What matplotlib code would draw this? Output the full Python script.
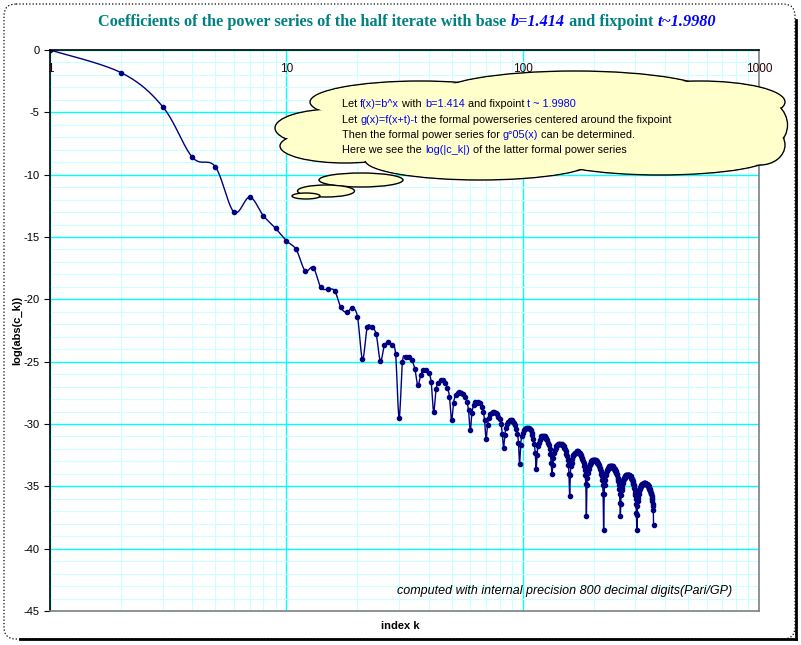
import numpy as np, matplotlib
matplotlib.use('Agg')
import matplotlib.pyplot as plt
from matplotlib.patches import Ellipse, FancyBboxPatch
from matplotlib.ticker import FixedLocator, NullFormatter

# ---- data: log(|c_k|) for k = 1..358 ----
y_early = [0.0, -1.82, -4.55, -8.6, -9.35, -13.0, -11.8, -13.3, -14.3, -15.3,
           -16.0, -17.7, -17.45, -19.05, -19.2, -19.3, -20.65, -21.05, -20.7, -21.4,
           -24.8, -22.25, -22.25, -22.8, -24.95, -23.7, -23.45, -23.65, -24.4]
y_late = [
 -29.5,-25.0,-24.6,-24.6,-24.9,-25.6,-26.9,-26.1,-25.7,-25.7,-25.9,-26.6,-29.0,-27.2,
 -26.7,-26.5,-26.5,-26.7,-27.1,-27.8,-29.7,-28.3,-27.7,-27.5,-27.4,-27.5,-27.6,-27.8,
 -28.2,-28.9,-30.5,-29.1,-28.5,-28.2,-28.3,-28.2,-28.3,-28.6,-29.0,-29.7,-31.2,-30.1,
 -29.5,-29.2,-29.1,-29.0,-29.0,-29.1,-29.2,-29.4,-29.6,-30.0,-30.8,-31.9,-30.9,-30.3,
 -30.0,-29.8,-29.7,-29.7,-29.7,-29.8,-29.9,-30.1,-30.4,-30.8,-31.5,-33.2,-31.7,-31.0,
 -30.7,-30.5,-30.4,-30.3,-30.3,-30.3,-30.3,-30.4,-30.5,-30.7,-30.9,-31.2,-31.6,-32.3,
 -33.6,-32.5,-31.8,-31.5,-31.3,-31.1,-31.0,-31.0,-31.0,-31.0,-31.0,-31.1,-31.2,-31.3,
 -31.5,-31.7,-32.0,-32.4,-33.1,-34.0,-33.3,-32.7,-32.3,-32.1,-31.9,-31.8,-31.7,-31.6,
 -31.6,-31.6,-31.6,-31.6,-31.6,-31.7,-31.7,-31.8,-31.9,-32.0,-32.2,-32.4,-32.6,-32.9,
 -33.3,-34.0,-35.8,-34.1,-33.4,-33.1,-32.8,-32.6,-32.5,-32.4,-32.3,-32.3,-32.3,-32.2,
 -32.2,-32.2,-32.3,-32.3,-32.3,-32.4,-32.5,-32.6,-32.7,-32.8,-33.0,-33.1,-33.4,-33.7,
 -34.1,-34.8,-37.4,-34.9,-34.3,-33.9,-33.6,-33.4,-33.3,-33.2,-33.1,-33.0,-33.0,-32.9,
 -32.9,-32.9,-32.9,-32.9,-32.9,-32.9,-32.9,-33.0,-33.0,-33.1,-33.1,-33.2,-33.3,-33.4,
 -33.5,-33.6,-33.8,-34.0,-34.2,-34.5,-34.9,-35.6,-38.5,-35.6,-34.9,-34.5,-34.2,-34.1,
 -33.9,-33.8,-33.7,-33.6,-33.5,-33.5,-33.5,-33.4,-33.4,-33.4,-33.4,-33.4,-33.4,-33.4,
 -33.4,-33.5,-33.5,-33.5,-33.6,-33.6,-33.7,-33.8,-33.8,-33.9,-34.0,-34.1,-34.3,-34.4,
 -34.6,-34.9,-35.2,-35.6,-36.3,-37.4,-36.4,-35.7,-35.3,-35.1,-34.9,-34.7,-34.6,-34.5,
 -34.4,-34.3,-34.3,-34.2,-34.2,-34.1,-34.1,-34.1,-34.1,-34.1,-34.1,-34.1,-34.1,-34.1,
 -34.1,-34.1,-34.2,-34.2,-34.2,-34.3,-34.3,-34.4,-34.4,-34.5,-34.6,-34.7,-34.8,-34.9,
 -35.0,-35.1,-35.3,-35.5,-35.7,-36.0,-36.4,-37.1,-38.5,-37.3,-36.6,-36.2,-35.9,-35.7,
 -35.6,-35.4,-35.3,-35.2,-35.1,-35.1,-35.0,-35.0,-34.9,-34.9,-34.8,-34.8,-34.8,-34.8,
 -34.8,-34.7,-34.7,-34.7,-34.7,-34.7,-34.7,-34.8,-34.8,-34.8,-34.8,-34.8,-34.8,-34.9,
 -34.9,-34.9,-35.0,-35.0,-35.1,-35.1,-35.2,-35.2,-35.3,-35.4,-35.5,-35.5,-35.6,-35.8,
 -35.9,-36.0,-36.2,-36.4,-36.6,-36.9,-38.1]
log_ck = y_early + y_late
k_index = list(range(1, len(log_ck) + 1))

x_ticks = [1, 10, 100, 1000]
x_tick_labels = ["1", "10", "100", "1000"]
y_ticks = [0, -5, -10, -15, -20, -25, -30, -35, -40, -45]

W, H = 801, 645
fig = plt.figure(figsize=(W/100, H/100), dpi=100)
ax = fig.add_axes([50/W, 1-611/H, 709/W, 561/H])
ax.set_xscale('log')
ax.set_xlim(1, 1000)
ax.set_ylim(-45, 0)
ax.set_yticks(y_ticks)
ax.yaxis.set_minor_locator(FixedLocator(np.arange(-45, 1, 1)))
ax.set_yticklabels([str(t) for t in y_ticks], fontsize=8, family='Liberation Sans')
ax.set_xticks(x_ticks)
ax.xaxis.set_minor_formatter(NullFormatter())
ax.set_xticklabels([])
ax.tick_params(axis='x', which='both', length=0)
ax.tick_params(axis='y', which='major', length=4, direction='out')
ax.tick_params(axis='y', which='minor', length=0)
ax.grid(which='minor', color='#ccffff', lw=0.8)
ax.grid(which='major', color='#00ffff', lw=1.0)
ax.set_axisbelow(True)
for s in ['top', 'left']:
    ax.spines[s].set_color('black'); ax.spines[s].set_linewidth(1.2)
for s in ['bottom', 'right']:
    ax.spines[s].set_color('#808080'); ax.spines[s].set_linewidth(1.2)
for xt, lab in zip(x_ticks, x_tick_labels):
    ax.text(xt, -1.5, lab, ha='center', va='center', fontsize=8.5,
            family='Liberation Sans', color='#300000')

# smoothed line (Catmull-Rom through the data points, like Excel's smoothed line)
u = np.log10(np.array(k_index, float)) * 236.5
v = np.array(log_ck) * 12.47
P = np.column_stack([u, v])
Pp = np.vstack([P[0], P, P[-1]])
ts = np.linspace(0, 1, 10, endpoint=False)
segs = []
for i in range(1, len(Pp) - 2):
    p0, p1, p2, p3 = Pp[i-1], Pp[i], Pp[i+1], Pp[i+2]
    for t in ts:
        segs.append(0.5*((2*p1) + (-p0+p2)*t + (2*p0-5*p1+4*p2-p3)*t*t + (-p0+3*p1-3*p2+p3)*t**3))
segs.append(P[-1])
S = np.array(segs)
ax.plot(10**(S[:, 0]/236.5), S[:, 1]/12.47, color='#000080', lw=1)
ax.plot(k_index, log_ck, ls='none', color='#000080', marker='o', ms=3.0)

ax.text(0.49, 0.03, "computed with internal precision 800 decimal digits(Pari/GP)",
        transform=ax.transAxes, fontsize=9, style='italic', family='Liberation Sans')
fig.text(400/W, 1-626/H, "index k", ha='center', va='center', fontsize=8,
         weight='bold', family='Liberation Sans')
fig.text(17/W, 1-330/H, "log(abs(c_k))", ha='center', va='center', rotation=90,
         fontsize=8, weight='bold', family='Liberation Sans')

# overlay in pixel coords
ov = fig.add_axes([0, 0, 1, 1], facecolor='none')
ov.set_xlim(0, W); ov.set_ylim(H, 0); ov.axis('off')
ov.add_patch(FancyBboxPatch((4, 4), W-10, H-10, boxstyle='round,pad=0,rounding_size=12',
                            fill=False, ls=':', lw=0.9, ec='black'))
ov.plot([W-5, W-5], [20, H-6], color='black', lw=2)
ov.plot([20, W-5], [H-6, H-6], color='black', lw=2)

cloud = [(530, 128, 470, 72), (420, 102, 220, 42), (575, 96, 280, 50), (700, 102, 170, 42),
         (335, 128, 120, 38), (345, 146, 130, 34), (755, 125, 65, 56), (480, 160, 230, 40),
         (660, 155, 230, 40), (760, 145, 50, 40)]
bubbles = [(361, 180, 84, 14), (326, 191, 57, 12), (306, 196, 28, 6)]
for (cx, cy, w, h) in cloud + bubbles:
    ov.add_patch(Ellipse((cx, cy), w, h, fc='#ffffcc', ec='black', lw=1.0, zorder=2))
for (cx, cy, w, h) in cloud:
    ov.add_patch(Ellipse((cx, cy), w-2.5, h-2.5, fc='#ffffcc', ec='none', zorder=3))

fig.canvas.draw()
rend = fig.canvas.get_renderer()

def multi(x, y, parts, size, family, weight='normal', center=False):
    arts = []
    cur = x
    for txt, col, sty in parts:
        t = fig.text(cur/W, 1-y/H, txt, color=col, fontsize=size, family=family,
                     weight=sty.get('weight', weight), style=sty.get('style', 'normal'),
                     va='center', ha='left', zorder=5)
        bb = t.get_window_extent(rend)
        cur += bb.width
        arts.append(t)
    if center:
        shift = (cur - x) / 2
        for t in arts:
            px, py = t.get_position()
            t.set_position((px - shift/W, py))

teal = '#008080'; blue = '#0000ff'
bi = {'weight': 'bold', 'style': 'italic'}
multi(407, 22, [("Coefficients of the power series of the half iterate with base ", teal, {}),
                ("b=1.414", blue, bi), (" and fixpoint ", teal, {}), ("t~1.9980", blue, bi)],
      11.7, 'Liberation Serif', weight='bold', center=True)
cf = 'Liberation Sans'; cs = 7.8; bl = '#0000ee'; k = '#000000'
lx = 342
multi(lx, 104, [("Let ", k, {}), ("f(x)=b^x", bl, {}), (" with ", k, {}), ("b=1.414", bl, {}),
                (" and fixpoint ", k, {}), ("t ~ 1.9980", bl, {})], cs, cf)
multi(lx, 120, [("Let ", k, {}), ("g(x)=f(x+t)-t", bl, {}),
                (" the formal powerseries centered around the fixpoint", k, {})], cs, cf)
multi(lx, 135, [("Then the formal power series for ", k, {}), ("g°05(x)", bl, {}),
                (" can be determined.", k, {})], cs, cf)
multi(lx, 150, [("Here we see the ", k, {}), ("log(|c_k|)", bl, {}),
                (" of the latter formal power series", k, {})], cs, cf)

fig.savefig('out.png', dpi=100)
